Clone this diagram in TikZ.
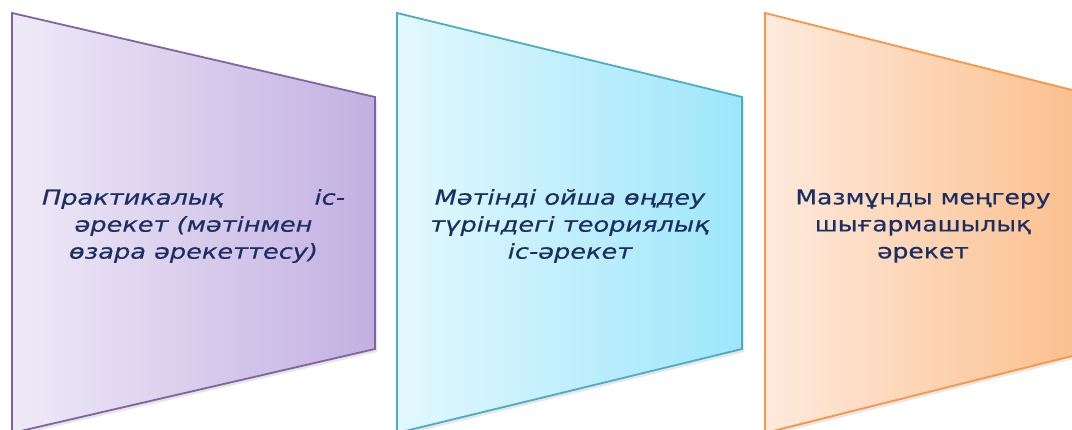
\documentclass[tikz,border=0pt]{standalone}
\usepackage{fontspec}
\setmainfont{DejaVu Sans}
\newfontfamily\widefont{DejaVu Sans}[FakeStretch=1.22, FakeBold=0.6, ItalicFont={DejaVu Sans Oblique}, ItalicFeatures={FakeStretch=1.25, FakeBold=0.6}]
\usetikzlibrary{shadows}
\definecolor{txtc}{HTML}{1B2F63}
\definecolor{pL}{HTML}{EFEAF7}\definecolor{pR}{HTML}{C3B0E2}\definecolor{pB}{HTML}{8064A2}
\definecolor{bL}{HTML}{E3F8FE}\definecolor{bR}{HTML}{9EE6FB}\definecolor{bB}{HTML}{4BACC6}
\definecolor{oL}{HTML}{FEEADD}\definecolor{oR}{HTML}{FBBD88}\definecolor{oB}{HTML}{F79646}
\begin{document}
\begin{tikzpicture}[x=1pt,y=-1pt,
  panel/.style={line width=1.8pt, line join=miter, drop shadow={opacity=0.2, shadow xshift=2pt, shadow yshift=-3pt}},
  lbl/.style={text=txtc, font=\widefont\fontsize{20.5}{27}\selectfont, align=center, inner sep=0pt},
  itlbl/.style={lbl, font=\widefont\itshape\fontsize{20.5}{27}\selectfont}]
\useasboundingbox (0,0) rectangle (1072,430);
\clip (0,0) rectangle (1072,430);
% panels
\path[panel, draw=pB, left color=pL, right color=pR] (12,13) -- (375,97) -- (375,349) -- (12,433) -- cycle;
\path[panel, draw=bB, left color=bL, right color=bR] (397,13) -- (742,97) -- (742,349) -- (397,433) -- cycle;
\path[panel, draw=oB, left color=oL, right color=oR] (765,13) -- (1100,97) -- (1100,349) -- (765,433) -- cycle;
% labels
\node[itlbl] (t1) at (193.5,226)
  {\makebox[303pt]{Практикалық\hfill іс-}\\әрекет (мәтінмен\\өзара әрекеттесу)};
\node[itlbl] (t2) at (570,226)
  {Мәтінді ойша өңдеу\\түріндегі теориялық\\іс-әрекет};
\node[lbl] (t3) at (923,226)
  {Мазмұнды меңгеру\\шығармашылық\\әрекет};
\end{tikzpicture}
\end{document}
